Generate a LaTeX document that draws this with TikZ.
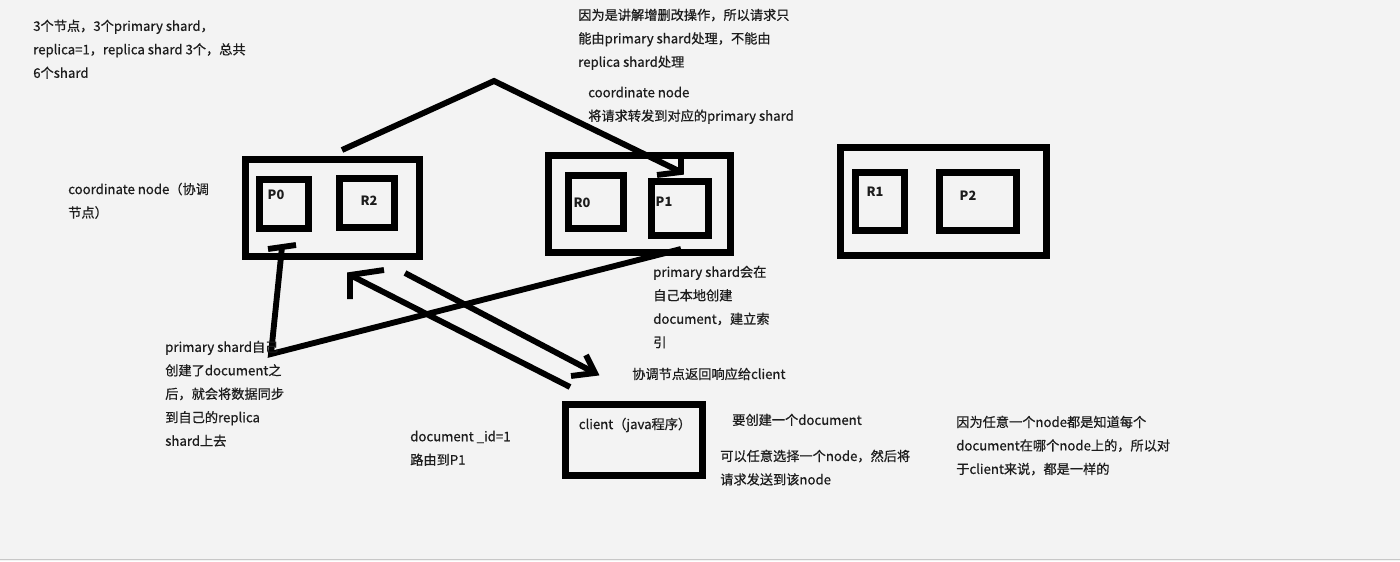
\documentclass[tikz,border=0pt]{standalone}
\usepackage{fontspec}
\setmainfont{Noto Sans CJK SC}[UprightFeatures={FakeBold=0.6}]
\definecolor{bg}{HTML}{F3F3F3}
\definecolor{ink}{HTML}{1C1C1C}
\begin{document}
\begin{tikzpicture}[x=0.75pt,y=-0.75pt,
  box/.style={draw=black,line width=4.6pt,inner sep=0pt},
  txt/.style={font=\fontsize{9.9}{17.6}\selectfont,text=ink,align=left,anchor=north west,inner sep=0pt},
  lbl/.style={font=\fontsize{9.6}{11}\selectfont\bfseries,text=ink,inner sep=0pt},
  wire/.style={line width=4.4pt,line join=miter}]
\fill[bg] (0,0) rectangle (1400,561);
\useasboundingbox (0,0) rectangle (1400,561);
\draw[line width=1pt,black!22] (0,559.5) -- (1400,559.5);
% node boxes
\node[box,minimum width=130.5pt,minimum height=72.75pt] (n1) at (332.5,208) {};
\node[box,minimum width=36.75pt,minimum height=36.75pt] (p0) at (284,204) {};
\node[box,minimum width=41.25pt,minimum height=36.75pt] (r2) at (367,203) {};
\node[box,minimum width=136.5pt,minimum height=72.75pt] (n2) at (639.5,204) {};
\node[box,minimum width=41.25pt,minimum height=39.75pt] (r0) at (596,202) {};
\node[box,minimum width=42.75pt,minimum height=40.5pt] (p1) at (680,208.5) {};
\node[box,minimum width=154.5pt,minimum height=81pt] (n3) at (943.5,201.5) {};
\node[box,minimum width=36.75pt,minimum height=43.5pt] (r1) at (880,201.5) {};
\node[box,minimum width=57.75pt,minimum height=43.5pt] (p2) at (978,201.5) {};
\node[box,minimum width=102.75pt,minimum height=53.25pt] (cl) at (634,440) {};
% box labels
\node[lbl] (lp0) at (276,195) {P0};
\node[lbl] (lr2) at (369,201) {R2};
\node[lbl] (lr0) at (582,203) {R0};
\node[lbl] (lp1) at (664,202) {P1};
\node[lbl] (lr1) at (875,192) {R1};
\node[lbl] (lp2) at (968,196) {P2};
\node[font=\fontsize{9.9}{11}\selectfont,text=ink,inner sep=0pt] (lcl) at (635,425) {client（java程序）};
% connector points
\coordinate (a0) at (342,150);
\coordinate (apk) at (494,81);
\coordinate (atip) at (681,172);
\coordinate (b0) at (405,273);
\coordinate (btip) at (595,373);
\coordinate (c0) at (570,387);
\coordinate (ctip) at (350,275);
\coordinate (d0) at (681,249);
\coordinate (dk) at (271,354);
\coordinate (dtip) at (282,247);
% coordinate node forwards request to P1
\draw[wire] (a0) -- (apk) -- (atip);
\draw[wire] (657,175) -- (atip) -- (681,155);
% coordinate node forwards to client
\draw[wire] (b0) -- (btip);
\draw[wire] (571,376) -- (btip) -- (586,355);
% client to coordinate node
\draw[wire] (c0) -- (ctip);
\draw[wire] (384,270) -- (ctip) -- (350,299);
% P1 syncs to P0 side
\draw[wire] (d0) -- (dk) -- (dtip);
\draw[wire] (268,249) -- (dtip) -- (296,245);
% texts
\node[txt] (t1) at (33,19.5) {3个节点，3个primary shard，\\replica=1，replica shard 3个，总共\\6个shard};
\node[txt] (t2) at (578,8.5) {因为是讲解增删改操作，所以请求只\\能由primary shard处理，不能由\\replica shard处理};
\node[txt] (t3) at (588,86.5) {coordinate node\\将请求转发到对应的primary shard};
\node[txt] (t4) at (68,182.5) {coordinate node（协调\\节点）};
\node[txt] (t5) at (653,265.5) {primary shard会在\\自己本地创建\\document，建立索\\引};
\node[txt] (t6) at (632,367.5) {协调节点返回响应给client};
\node[txt] (t7) at (165,340.5) {primary shard自己\\创建了document之\\后，就会将数据同步\\到自己的replica\\shard上去};
\node[txt] (t8) at (410,430.5) {document \_id=1\\路由到P1};
\node[txt] (t9) at (732,413.5) {要创建一个document};
\node[txt] (t10) at (720,449.5) {可以任意选择一个node，然后将\\请求发送到该node};
\node[txt] (t11) at (956,415.5) {因为任意一个node都是知道每个\\document在哪个node上的，所以对\\于client来说，都是一样的};
\end{tikzpicture}
\end{document}
